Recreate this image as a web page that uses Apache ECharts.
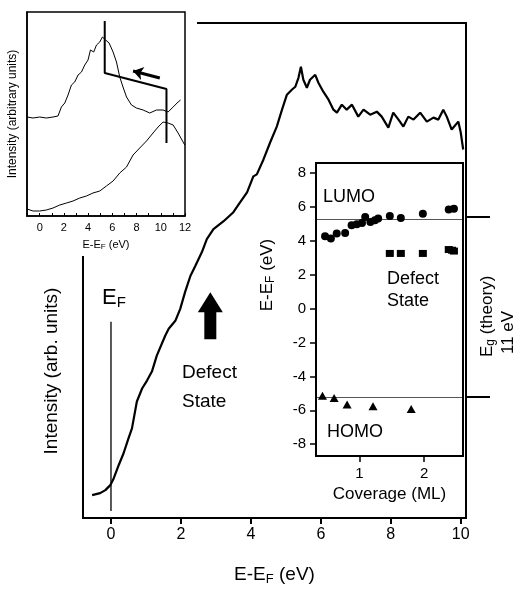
<!DOCTYPE html>
<html>
<head>
<meta charset="utf-8">
<script src="https://cdn.jsdelivr.net/npm/echarts@6/dist/echarts.min.js"></script>
<style>
  html, body { margin: 0; padding: 0; background: #fff; }
  #chart { width: 516px; height: 591px; }
</style>
</head>
<body>
<div id="chart"></div>
<script>
// main spectrum (E-EF in eV, intensity in arb. units)
const mainX = [-0.54,-0.31,-0.16,-0.02,0.08,0.22,0.36,0.50,0.60,0.74,0.89,1.03,1.17,1.31,1.55,1.65,1.84,1.98,2.12,2.27,2.41,2.60,2.74,2.93,3.22,3.50,3.69,3.89,4.07,4.17,4.36,4.55,4.74,4.89,5.03,5.17,5.27,5.36,5.43,5.50,5.60,5.69,5.84,5.93,6.07,6.22,6.36,6.46,6.60,6.74,6.89,7.07,7.22,7.41,7.60,7.74,7.93,8.07,8.22,8.36,8.50,8.65,8.84,9.03,9.22,9.36,9.50,9.60,9.74,9.93,10.0,10.07]
const mainY = [23,25,28,33,40,53,65,80,90,117,130,138,147,163,183,190,198,210,227,243,253,267,280,290,298,307,317,327,343,345,360,377,393,410,425,430,433,442,453,440,432,440,445,437,428,420,410,407,415,410,415,403,410,405,408,403,392,407,400,393,403,400,407,398,402,400,410,403,390,398,387,370]
const efX = [0, 0]
const efY = [7, 197]
const defectArrow = [2.84, 203]
const gapTicks = [302, 122]   // LUMO / HOMO marks on right edge
const mainTicks = [0, 2, 4, 6, 8, 10]

// top-left inset spectra
const upperX = [-1.05,-0.55,0,0.55,1.1,1.51,1.79,2.07,2.34,2.62,2.89,3.17,3.45,3.72,3.99,4.19,4.46,4.69,4.96,5.18,5.45,5.73,6.06,6.34,6.61,6.88,7.17,7.58,7.99,8.54,9.09,9.64,10.19,10.6,11.02,11.43,11.63]
const upperY = [99,98,99,98,99,100,109,113,121,131,134,141,144,151,156,166,164,171,174,179,176,173,164,154,139,129,119,111,108,106,103,106,106,104,109,114,116]
const lowerX = [-1.05,-0.55,0,0.55,1.1,1.65,2.21,2.75,3.31,3.86,4.40,4.96,5.51,6.06,6.61,7.17,7.71,8.26,8.82,9.36,9.78,10.19,10.6,11.02,11.43,11.98]
const lowerY = [7,5,5,6,8,11,13,15,18,20,23,25,30,35,43,49,61,68,75,83,89,94,93,91,83,71]
const stepX = [5.37, 5.37, 10.47, 10.47]
const stepY = [195, 143, 127, 73]
const insetArrowFrom = [9.92, 138]
const insetArrowTo = [7.71, 145]
const insetTicks = [0, 2, 4, 6, 8, 10, 12]
const insetMinor = [-1, 1, 3, 5, 7, 9, 11]

// right inset: level position vs coverage
const lumoCov = [0.47,0.56,0.65,0.78,0.88,0.96,1.04,1.09,1.17,1.24,1.29,1.47,1.64,1.98,2.38,2.46]
const lumoE = [4.28,4.14,4.43,4.47,4.92,4.98,5.06,5.41,5.12,5.22,5.32,5.47,5.35,5.61,5.85,5.9]
const defectCov = [1.47,1.64,1.98,2.38,2.43,2.46]
const defectE = [3.26,3.26,3.26,3.49,3.45,3.4]
const homoCov = [0.43,0.61,0.81,1.21,1.80]
const homoE = [-5.14,-5.28,-5.66,-5.76,-5.92]
const lumoLevel = 5.3
const homoLevel = -5.25
const covTicks = [1, 2]
const energyTicks = [-8, -6, -4, -2, 0, 2, 4, 6, 8]

const zip = (xs, ys) => xs.map((x, i) => [x, ys[i]])
const FONT = 'Liberation Sans'
const subRich = (size) => ({
  a: { fontFamily: FONT, fontSize: size, color: '#000' },
  s: { fontFamily: FONT, fontSize: Math.round(size * 0.7), color: '#000', padding: [Math.round(size * 0.45), 0, 0, 0] }
})

let myChart = echarts.init(document.getElementById('chart'))

let option = {
  backgroundColor: '#fff',
  animation: false,
  grid: [
    { left: 83, right: 50, top: 23, bottom: 71, show: true, borderColor: '#000', borderWidth: 2, backgroundColor: 'transparent' },
    { left: 27, right: 331, top: 12, bottom: 375, show: true, borderColor: '#000', borderWidth: 1.5, backgroundColor: 'transparent', z: 10 },
    { left: 316, right: 53, top: 163, bottom: 135, show: true, borderColor: '#000', borderWidth: 2, backgroundColor: 'transparent', z: 10 }
  ],
  xAxis: [
    {
      gridIndex: 0, type: 'value', min: -0.8, max: 10.15,
      splitLine: { show: false },
      axisLine: { onZero: false, lineStyle: { color: '#000', width: 2 } },
      axisTick: { customValues: mainTicks, length: 6, lineStyle: { color: '#000', width: 2 } },
      axisLabel: { customValues: mainTicks, color: '#000', fontFamily: FONT, fontSize: 16, margin: 9 },
      name: '{a|E-E}{s|F}{a| (eV)}', nameLocation: 'middle', nameGap: 46,
      nameTextStyle: { rich: subRich(19) }
    },
    {
      gridIndex: 1, type: 'value', min: -1.05, max: 12, z: 10,
      splitLine: { show: false },
      axisLine: { onZero: false, lineStyle: { color: '#000', width: 1.5 } },
      axisTick: { customValues: insetTicks.concat(insetMinor), inside: true, length: 3, lineStyle: { color: '#000' } },
      axisLabel: { customValues: insetTicks, color: '#000', fontFamily: FONT, fontSize: 11, margin: 6 },
      name: '{a|E-E}{s|F}{a| (eV)}', nameLocation: 'middle', nameGap: 22,
      nameTextStyle: { rich: subRich(11) }
    },
    {
      gridIndex: 2, type: 'value', min: 0.33, max: 2.6, z: 10,
      splitLine: { show: false },
      axisLine: { onZero: false, lineStyle: { color: '#000', width: 2 } },
      axisTick: { customValues: covTicks, length: 6, lineStyle: { color: '#000', width: 1.5 } },
      axisLabel: { customValues: covTicks, color: '#000', fontFamily: FONT, fontSize: 15, margin: 10 },
      name: 'Coverage (ML)', nameLocation: 'middle', nameGap: 30,
      nameTextStyle: { color: '#000', fontFamily: FONT, fontSize: 17 }
    }
  ],
  yAxis: [
    {
      gridIndex: 0, type: 'value', min: 0, max: 497,
      splitLine: { show: false },
      axisLine: { show: true, onZero: false, lineStyle: { color: '#000', width: 2 } },
      axisTick: { show: false }, axisLabel: { show: false }
    },
    {
      // right edge marks for the gap
      gridIndex: 0, type: 'value', min: 0, max: 497, position: 'right',
      splitLine: { show: false },
      axisLine: { show: false, onZero: false },
      axisTick: { customValues: gapTicks, length: 24, lineStyle: { color: '#000', width: 2 } },
      axisLabel: { show: false }
    },
    {
      gridIndex: 1, type: 'value', min: 0, max: 204, z: 10,
      splitLine: { show: false },
      axisLine: { show: true, onZero: false, lineStyle: { color: '#000', width: 1.5 } },
      axisTick: { show: false }, axisLabel: { show: false },
      name: 'Intensity (arbitrary units)', nameLocation: 'middle', nameGap: 8,
      nameTextStyle: { color: '#000', fontFamily: FONT, fontSize: 12 }
    },
    {
      gridIndex: 2, type: 'value', min: -8.7, max: 8.6, z: 10,
      splitLine: { show: false },
      axisLine: { show: true, onZero: false, lineStyle: { color: '#000', width: 2 } },
      axisTick: { customValues: energyTicks, length: 6, lineStyle: { color: '#000', width: 1.5 } },
      axisLabel: { customValues: energyTicks, color: '#000', fontFamily: FONT, fontSize: 15, margin: 10 }
    }
  ],
  graphic: [
    // blank out the main frame behind the top-left inset
    { type: 'rect', z: 3, shape: { x: 0, y: 0, width: 197, height: 256 }, style: { fill: '#fff' } },
    { type: 'text', z: 20, x: 52, y: 371, rotation: Math.PI / 2,
      style: { text: 'Intensity (arb. units)', fill: '#000', fontFamily: FONT, fontSize: 19, align: 'center', verticalAlign: 'middle' } },
    { type: 'text', z: 20, x: 102, y: 298,
      style: { text: '{a|E}{s|F}', rich: subRich(22), align: 'left', verticalAlign: 'middle' } },
    { type: 'text', z: 20, x: 182, y: 358,
      style: { text: 'Defect\nState', fill: '#000', fontFamily: FONT, fontSize: 19, lineHeight: 29, align: 'left', verticalAlign: 'top' } },
    { type: 'text', z: 20, x: 267, y: 275, rotation: Math.PI / 2,
      style: { text: '{a|E-E}{s|F}{a| (eV)}', rich: subRich(17), align: 'center', verticalAlign: 'middle' } },
    { type: 'text', z: 20, x: 323, y: 197,
      style: { text: 'LUMO', fill: '#000', fontFamily: FONT, fontSize: 18, align: 'left', verticalAlign: 'middle' } },
    { type: 'text', z: 20, x: 327, y: 432,
      style: { text: 'HOMO', fill: '#000', fontFamily: FONT, fontSize: 18, align: 'left', verticalAlign: 'middle' } },
    { type: 'text', z: 20, x: 387, y: 268,
      style: { text: 'Defect\nState', fill: '#000', fontFamily: FONT, fontSize: 18, lineHeight: 22, align: 'left', verticalAlign: 'top' } },
    { type: 'text', z: 20, x: 487, y: 357, rotation: Math.PI / 2,
      style: { text: '{a|E}{s|g}{a| (theory)}', rich: subRich(17), align: 'left', verticalAlign: 'middle' } },
    { type: 'text', z: 20, x: 508, y: 354, rotation: Math.PI / 2,
      style: { text: '11 eV', fill: '#000', fontFamily: FONT, fontSize: 17, align: 'left', verticalAlign: 'middle' } }
  ],
  series: [
    {
      type: 'line', xAxisIndex: 0, yAxisIndex: 0, data: zip(mainX, mainY),
      showSymbol: false, lineStyle: { color: '#000', width: 2.2 }
    },
    {
      type: 'line', xAxisIndex: 0, yAxisIndex: 0, data: zip(efX, efY),
      showSymbol: false, lineStyle: { color: '#000', width: 1.3 }
    },
    {
      type: 'scatter', xAxisIndex: 0, yAxisIndex: 0, data: [defectArrow],
      symbol: 'path://M12.5,0 L25,20 L18.5,20 L18.5,47 L6.5,47 L6.5,20 L0,20 Z',
      symbolSize: [25, 47], itemStyle: { color: '#000', opacity: 1 }
    },
    {
      type: 'line', xAxisIndex: 1, yAxisIndex: 2, z: 11, data: zip(upperX, upperY),
      showSymbol: false, lineStyle: { color: '#000', width: 1 }
    },
    {
      type: 'line', xAxisIndex: 1, yAxisIndex: 2, z: 11, data: zip(lowerX, lowerY),
      showSymbol: false, lineStyle: { color: '#000', width: 1 }
    },
    {
      type: 'line', xAxisIndex: 1, yAxisIndex: 2, z: 11, data: zip(stepX, stepY),
      showSymbol: false, lineStyle: { color: '#000', width: 2 }
    },
    {
      type: 'lines', coordinateSystem: 'cartesian2d', xAxisIndex: 1, yAxisIndex: 2, z: 11,
      symbol: ['none', 'arrow'], symbolSize: 10,
      lineStyle: { color: '#000', width: 3, opacity: 1 },
      data: [{ coords: [insetArrowFrom, insetArrowTo] }]
    },
    {
      type: 'scatter', xAxisIndex: 2, yAxisIndex: 3, z: 11, data: zip(lumoCov, lumoE),
      symbol: 'circle', symbolSize: 8, itemStyle: { color: '#000', opacity: 1 },
      markLine: {
        silent: true, symbol: 'none', label: { show: false },
        lineStyle: { color: '#555', width: 1, type: 'solid' },
        data: [{ yAxis: lumoLevel }, { yAxis: homoLevel }]
      }
    },
    {
      type: 'scatter', xAxisIndex: 2, yAxisIndex: 3, z: 11, data: zip(defectCov, defectE),
      symbol: 'rect', symbolSize: [8, 7], itemStyle: { color: '#000', opacity: 1 }
    },
    {
      type: 'scatter', xAxisIndex: 2, yAxisIndex: 3, z: 11, data: zip(homoCov, homoE),
      symbol: 'triangle', symbolSize: [9, 8], itemStyle: { color: '#000', opacity: 1 }
    }
  ]
}
myChart.setOption(option)
</script>
</body>
</html>
